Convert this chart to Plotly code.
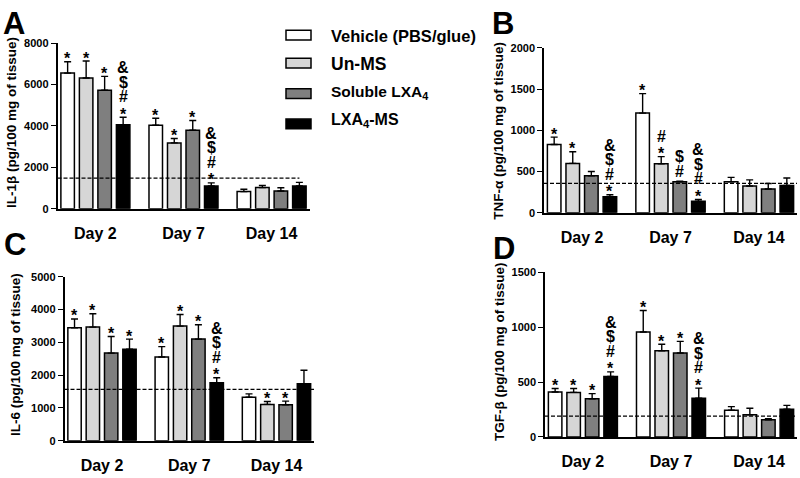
import plotly.graph_objects as go

# ---------------- data ----------------
days = ["Day 2", "Day 7", "Day 14"]
series_names = ["Vehicle (PBS/glue)", "Un-MS", "Soluble LXA<sub>4</sub>", "LXA<sub>4</sub>-MS"]

# Panel A: IL-1beta
il1b_vehicle = [6550, 4030, 830]
il1b_unms = [6310, 3180, 1030]
il1b_soluble = [5720, 3790, 860]
il1b_lxa4ms = [4060, 1100, 1100]
il1b_vehicle_err = [550, 340, 110]
il1b_unms_err = [820, 210, 100]
il1b_soluble_err = [670, 470, 155]
il1b_lxa4ms_err = [360, 150, 175]
il1b_baseline = 1480
il1b_ticks = [0, 2000, 4000, 6000, 8000]

# Panel B: TNF-alpha
tnf_vehicle = [827, 1209, 374]
tnf_unms = [598, 594, 323]
tnf_soluble = [449, 374, 287]
tnf_lxa4ms = [193, 138, 331]
tnf_vehicle_err = [90, 236, 55]
tnf_unms_err = [142, 87, 75]
tnf_soluble_err = [51, 8, 67]
tnf_lxa4ms_err = [24, 23, 90]
tnf_baseline = 355
tnf_ticks = [0, 500, 1000, 1500, 2000]

# Panel C: IL-6
il6_vehicle = [3446, 2554, 1330]
il6_unms = [3465, 3495, 1110]
il6_soluble = [2673, 3099, 1100]
il6_lxa4ms = [2792, 1772, 1735]
il6_vehicle_err = [267, 317, 100]
il6_unms_err = [406, 356, 90]
il6_soluble_err = [505, 436, 110]
il6_lxa4ms_err = [307, 149, 415]
il6_baseline = 1570
il6_ticks = [0, 1000, 2000, 3000, 4000, 5000]

# Panel D: TGF-beta
tgf_vehicle = [409, 957, 243]
tgf_unms = [406, 785, 202]
tgf_soluble = [347, 765, 157]
tgf_lxa4ms = [552, 353, 252]
tgf_vehicle_err = [33, 196, 33]
tgf_unms_err = [36, 60, 59]
tgf_soluble_err = [48, 106, 9]
tgf_lxa4ms_err = [41, 92, 36]
tgf_baseline = 190
tgf_ticks = [0, 500, 1000, 1500]

# significance marks (bottom to top) per series per day
il1b_marks = [["*", "*", ""], ["*", "*", ""], ["*", "*", ""], ["*#$&", "*#$&", ""]]
tnf_marks = [["*", "*", ""], ["*", "*#", ""], ["", "#$", ""], ["*#$&", "*#$&", ""]]
il6_marks = [["*", "*", ""], ["*", "*", "*"], ["*", "*", "*"], ["*", "*#$&", ""]]
tgf_marks = [["*", "*", ""], ["*", "*", ""], ["*", "*", ""], ["*#$&", "*#$&", ""]]

panel_letters = ["A", "B", "C", "D"]
y_titles = ["IL-1β (pg/100 mg of tissue)", "TNF-α (pg/100 mg of tissue)",
            "IL-6 (pg/100 mg of tissue)", "TGF-β (pg/100 mg of tissue)"]

# ---------------- style ----------------
W, H = 800, 478
FONT = "Liberation Sans, Arial, sans-serif"
bar_colors = ["#ffffff", "#d6d6d6", "#7f7f7f", "#000000"]
BARGAP = 0.16
BARGROUPGAP = 0.27
XRANGE = [-0.43, 2.43]

# pixel layout of each panel: (x0, x1, y_bottom, y_top)
panel_px = [(57.5, 309.5, 208, 38), (544, 797, 212, 43), (64.5, 314, 446, 277.7), (545, 797, 442, 273.3)]
dash_end = [0.96, 1.0, 1.0, 1.0]
title_pos = [(12, 120), (499, 128), (15, 358), (499, 355)]
letter_pos = [(14, 18), (503, 18), (15, 245), (504, 249)]

panels = [
    ([il1b_vehicle, il1b_unms, il1b_soluble, il1b_lxa4ms],
     [il1b_vehicle_err, il1b_unms_err, il1b_soluble_err, il1b_lxa4ms_err],
     il1b_marks, il1b_baseline, il1b_ticks),
    ([tnf_vehicle, tnf_unms, tnf_soluble, tnf_lxa4ms],
     [tnf_vehicle_err, tnf_unms_err, tnf_soluble_err, tnf_lxa4ms_err],
     tnf_marks, tnf_baseline, tnf_ticks),
    ([il6_vehicle, il6_unms, il6_soluble, il6_lxa4ms],
     [il6_vehicle_err, il6_unms_err, il6_soluble_err, il6_lxa4ms_err],
     il6_marks, il6_baseline, il6_ticks),
    ([tgf_vehicle, tgf_unms, tgf_soluble, tgf_lxa4ms],
     [tgf_vehicle_err, tgf_unms_err, tgf_soluble_err, tgf_lxa4ms_err],
     tgf_marks, tgf_baseline, tgf_ticks),
]

fig = go.Figure()
annotations = []
shapes = []
layout_axes = {}

slot = (1 - BARGAP) / 4
xpos = list(range(len(days)))

for p, (vals, errs, marks, base, ticks) in enumerate(panels):
    sfx = "" if p == 0 else str(p + 1)
    xa, ya = "x" + sfx, "y" + sfx
    for k in range(4):
        fig.add_trace(go.Bar(
            x=xpos, y=vals[k], xaxis=xa, yaxis=ya,
            name=series_names[k], showlegend=False, offsetgroup=str(k),
            marker=dict(color=bar_colors[k], line=dict(color="black", width=1.5)),
            error_y=dict(type="data", array=errs[k], arrayminus=[0] * len(days),
                         symmetric=False, color="black", thickness=1.4, width=3.5),
            hoverinfo="skip",
        ))
        # significance marks
        for d in range(len(days)):
            syms = marks[k][d]
            top = vals[k][d] + errs[k][d]
            xc = d - (1 - BARGAP) / 2 + (k + 0.5) * slot
            for i, s in enumerate(syms):
                shift = (6 if syms[0] == "*" else 10) + i * 14.5
                if s == "*":
                    shift -= 3
                annotations.append(dict(
                    x=xc, y=top, xref=xa, yref=ya, text=s, showarrow=False,
                    xanchor="center", yanchor="middle", yshift=shift,
                    font=dict(family=FONT, size=16, color="black", weight="bold")))
    x0, x1, yb, yt = panel_px[p]
    layout_axes["xaxis" + sfx] = dict(
        domain=[x0 / W, x1 / W], anchor=ya, range=XRANGE,
        tickvals=xpos, ticktext=days, ticks="", showline=True, linecolor="black",
        linewidth=1.5, showgrid=False, zeroline=False, ticklabelstandoff=9,
        tickfont=dict(family=FONT, size=16, color="black", weight="bold"), fixedrange=True)
    layout_axes["yaxis" + sfx] = dict(
        domain=[1 - yb / H, 1 - yt / H], anchor=xa, range=[0, ticks[-1]],
        tickvals=ticks, ticks="outside", ticklen=5, tickwidth=1.2, tickcolor="black",
        showline=True, linecolor="black", linewidth=1.5, showgrid=False, zeroline=False,
        tickfont=dict(family=FONT, size=11, color="black", weight="bold"), fixedrange=True)
    # baseline dashed line
    shapes.append(dict(type="line", xref=xa + " domain", yref=ya, x0=0, x1=dash_end[p],
                       y0=base, y1=base, line=dict(color="black", width=1.2, dash="4px,2px")))
    # y-axis title
    tx, ty = title_pos[p]
    annotations.append(dict(x=tx / W, y=1 - ty / H, xref="paper", yref="paper",
                            text=y_titles[p], textangle=-90, showarrow=False,
                            xanchor="center", yanchor="middle",
                            font=dict(family=FONT, size=13.5, color="black", weight="bold")))
    lx, ly = letter_pos[p]
    annotations.append(dict(x=lx / W, y=1 - ly / H, xref="paper", yref="paper",
                            text=panel_letters[p], showarrow=False,
                            xanchor="center", yanchor="middle",
                            font=dict(family=FONT, size=31, color="black", weight="bold")))

# manual legend
legend_box_y = [30, 58.5, 90, 121]
legend_text_y = [30.5, 60, 88.5, 117]
legend_sizes = [16.5, 17.5, 15.5, 16]
for k in range(4):
    yc = legend_box_y[k]
    shapes.append(dict(type="rect", xref="paper", yref="paper",
                       x0=286 / W, x1=311 / W, y0=1 - (yc + 5) / H, y1=1 - (yc - 5) / H,
                       fillcolor=bar_colors[k], line=dict(color="black", width=1.5)))
    annotations.append(dict(x=329 / W, y=1 - legend_text_y[k] / H, xref="paper", yref="paper",
                            text=series_names[k], showarrow=False, xanchor="left", yanchor="middle",
                            font=dict(family=FONT, size=legend_sizes[k], color="black", weight="bold")))

fig.update_layout(
    width=W, height=H, margin=dict(l=0, r=0, t=0, b=0),
    paper_bgcolor="white", plot_bgcolor="white",
    barmode="group", bargap=BARGAP, bargroupgap=BARGROUPGAP,
    showlegend=False, annotations=annotations, shapes=shapes,
    font=dict(family=FONT, color="black"), hovermode=False,
    **layout_axes,
)

fig.write_html("out.html", config={"displayModeBar": False},
               post_script="document.body.style.margin='0';document.body.style.padding='0';")
